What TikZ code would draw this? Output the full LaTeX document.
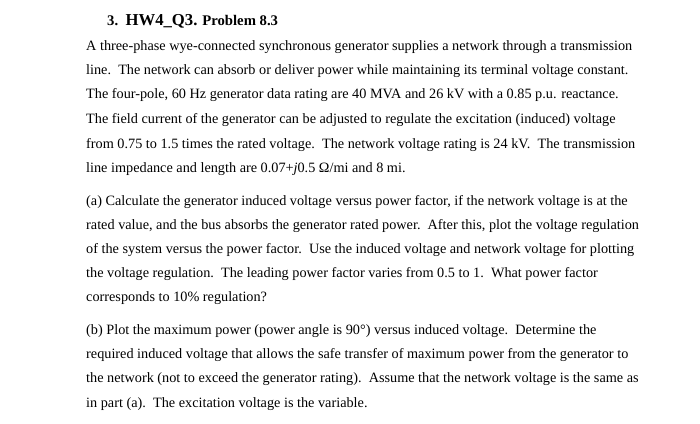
\documentclass[tikz,border=0pt]{standalone}
\usepackage{fontspec}
\setmainfont{Liberation Serif}
\begin{document}
\begin{tikzpicture}[x=1pt,y=-1pt,ln/.style={anchor=base west,inner sep=0pt,font=\fontsize{14.25}{16}\selectfont}]
\useasboundingbox[fill=white] (0,0) rectangle (700,423);
\node[ln,font=\bfseries\fontsize{14.7}{17}\selectfont] (t) at (107,25) {3.\ \ {\fontsize{16.7}{19}\selectfont HW4\_Q3.} Problem 8.3};
\node[ln] (l1) at (86,50) {A three-phase wye-connected synchronous generator supplies a network through a transmission};
\node[ln] (l2) at (86,74) {line.\ \ The network can absorb or deliver power while maintaining its terminal voltage constant.};
\node[ln] (l3) at (86,98) {The four-pole, 60 Hz generator data rating are 40 MVA and 26 kV with a 0.85 p.u. reactance.};
\node[ln] (l4) at (86,123) {The field current of the generator can be adjusted to regulate the excitation (induced) voltage};
\node[ln] (l5) at (86,148) {from 0.75 to 1.5 times the rated voltage.\ \ The network voltage rating is 24 kV.\ \ The transmission};
\node[ln] (l6) at (86,172) {line impedance and length are 0.07+\textit{j}0.5 Ω/mi and 8 mi.};
\node[ln] (a1) at (86,205) {(a) Calculate the generator induced voltage versus power factor, if the network voltage is at the};
\node[ln] (a2) at (86,229) {rated value, and the bus absorbs the generator rated power.\ \ After this, plot the voltage regulation};
\node[ln] (a3) at (86,253) {of the system versus the power factor.\ \ Use the induced voltage and network voltage for plotting};
\node[ln] (a4) at (86,277) {the voltage regulation.\ \ The leading power factor varies from 0.5 to 1.\ \ What power factor};
\node[ln] (a5) at (86,301) {corresponds to 10\% regulation?};
\node[ln] (b1) at (86,334) {(b) Plot the maximum power (power angle is 90°) versus induced voltage.\ \ Determine the};
\node[ln] (b2) at (86,358) {required induced voltage that allows the safe transfer of maximum power from the generator to};
\node[ln] (b3) at (86,382) {the network (not to exceed the generator rating).\ \ Assume that the network voltage is the same as};
\node[ln] (b4) at (86,407) {in part (a).\ \ The excitation voltage is the variable.};
\end{tikzpicture}
\end{document}
